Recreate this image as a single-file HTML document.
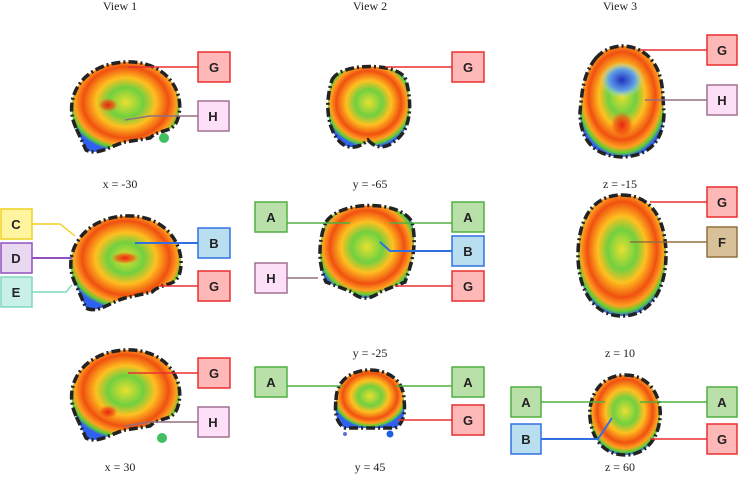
<!DOCTYPE html>
<html><head><style>
body{margin:0;background:#fff}
svg{display:block}
.t{font-family:"Liberation Serif","DejaVu Serif",serif;font-size:12px;fill:#222}
.b text{font-family:"Liberation Sans",sans-serif;font-size:13px;font-weight:bold;fill:#222;text-anchor:middle}
.br{stroke:#222;stroke-width:3.5;stroke-dasharray:9 3 2 3;fill:url(#g)}
</style></head><body>
<svg width="738" height="484" viewBox="0 0 738 484">
<defs>
<radialGradient id="g" cx="50%" cy="45%" r="55%">
<stop offset="0" stop-color="#e8e030"/>
<stop offset="0.3" stop-color="#70d040"/>
<stop offset="0.5" stop-color="#ffc020"/>
<stop offset="0.72" stop-color="#f05010"/>
<stop offset="0.85" stop-color="#ffa020"/>
<stop offset="0.93" stop-color="#60d030"/>
<stop offset="1" stop-color="#3060f0"/>
</radialGradient>
<radialGradient id="bl" cx="50%" cy="50%" r="50%">
<stop offset="0" stop-color="#2030c0"/><stop offset="0.6" stop-color="#60a0e8"/><stop offset="1" stop-color="#b0f0e0" stop-opacity="0"/>
</radialGradient>
<radialGradient id="rd" cx="50%" cy="50%" r="50%">
<stop offset="0" stop-color="#e82010"/><stop offset="0.6" stop-color="#f05010" stop-opacity="0.7"/><stop offset="1" stop-color="#ff8020" stop-opacity="0"/>
</radialGradient>
</defs>
<g class="t" text-anchor="middle">
<text x="120" y="10">View 1</text><text x="370" y="10">View 2</text><text x="620" y="10">View 3</text>
<text x="120" y="188">x = -30</text><text x="370" y="188">y = -65</text><text x="620" y="188">z = -15</text>
<text x="120" y="357">x = -8</text><text x="370" y="357">y = -25</text><text x="620" y="357">z = 10</text>
<text x="120" y="471">x = 30</text><text x="370" y="471">y = 45</text><text x="620" y="471">z = 60</text>
</g>
<!-- brains -->
<path class="br" d="M76,128 C62,98 82,64 125,62 C166,60 186,92 178,118 C174,134 160,128 150,138 L125,142 C110,146 98,156 86,150 Z"/>
<ellipse cx="108" cy="105" rx="10" ry="7" fill="url(#rd)"/>
<circle cx="164" cy="138" r="5" fill="#40c060"/>
<path class="br" d="M76,285 C60,255 82,218 125,216 C166,214 186,246 180,272 C176,288 162,282 152,292 L125,298 C110,302 98,314 86,308 Z"/>
<ellipse cx="125" cy="258" rx="14" ry="6" fill="url(#rd)"/>
<path class="br" d="M76,416 C62,386 82,352 125,350 C166,348 186,380 178,406 C174,422 160,416 150,426 L125,430 C110,434 98,444 86,438 Z"/>
<ellipse cx="108" cy="412" rx="10" ry="7" fill="url(#rd)"/>
<circle cx="162" cy="438" r="5" fill="#40c060"/>
<path class="br" d="M332,80 C340,62 400,62 406,80 C414,110 408,132 396,140 C385,150 375,148 368,140 C360,148 348,150 340,142 C328,130 324,105 332,80 Z"/>
<path class="br" d="M326,222 C340,200 400,200 412,222 C418,248 410,268 405,282 L380,292 C370,300 360,300 352,292 L326,282 C318,265 318,240 326,222 Z"/>
<path class="br" d="M336,400 C336,378 355,370 370,370 C385,370 404,378 404,400 C406,415 402,425 395,428 L345,428 C338,425 334,415 336,400 Z"/>
<circle cx="345" cy="434" r="2" fill="#6070d0"/><circle cx="390" cy="434" r="3.5" fill="#2060e0"/>
<path class="br" d="M596,58 C610,42 635,42 650,58 C665,75 662,95 664,112 C664,138 652,156 622,157 C592,156 580,138 580,112 C582,95 582,75 596,58 Z"/>
<ellipse cx="622" cy="80" rx="22" ry="18" fill="url(#bl)"/>
<ellipse cx="622" cy="125" rx="12" ry="14" fill="url(#rd)"/>
<path class="br" d="M622,195 C655,195 666,225 666,255 C666,290 650,316 622,316 C594,316 578,290 578,255 C578,225 589,195 622,195 Z"/>
<path class="br" d="M625,375 C652,375 662,400 660,418 C658,440 645,455 625,455 C605,455 592,440 590,418 C588,400 598,375 625,375 Z"/>
<!-- connectors -->
<g fill="none" stroke-width="1.4">
<path d="M198,67 H128" stroke="#e83030"/>
<path d="M198,116 H150 L125,120" stroke="#907080"/>
<path d="M198,243 H135" stroke="#3070e0" stroke-width="2"/>
<path d="M198,286 H160" stroke="#e83030"/>
<path d="M32,224 H60 L75,236" stroke="#f0d020"/>
<path d="M32,258 H72" stroke="#9050c0" stroke-width="2"/>
<path d="M32,292 H66 L72,285" stroke="#80d8c0"/>
<path d="M198,373 H128" stroke="#e83030"/>
<path d="M198,422 H150 L125,426" stroke="#907080"/>
<path d="M452,67 H385" stroke="#e83030"/>
<path d="M287,223 H350" stroke="#50b040"/>
<path d="M452,223 H390" stroke="#50b040"/>
<path d="M452,251 H390 L380,242" stroke="#3070e0" stroke-width="2"/>
<path d="M287,278 H318" stroke="#907080"/>
<path d="M452,286 H395" stroke="#e83030"/>
<path d="M287,386 H343" stroke="#50b040"/>
<path d="M452,386 H395" stroke="#50b040"/>
<path d="M452,420 H398" stroke="#e83030"/>
<path d="M708,50 H640" stroke="#e83030"/>
<path d="M708,100 H645" stroke="#907080"/>
<path d="M708,202 H650" stroke="#e83030"/>
<path d="M708,242 H630" stroke="#907040"/>
<path d="M541,402 H605" stroke="#50b040"/>
<path d="M708,402 H640" stroke="#50b040"/>
<path d="M541,439 H598 L612,418" stroke="#3070e0" stroke-width="2"/>
<path d="M708,439 H650" stroke="#e83030"/>
</g>
<!-- boxes -->
<g class="b" stroke-width="1.5">
<rect x="198" y="52" width="32" height="30" fill="#ffb8b8" stroke="#e83030"/><text x="214" y="72">G</text>
<rect x="198" y="101" width="31" height="30" fill="#fde0f8" stroke="#a07090"/><text x="213" y="121">H</text>
<rect x="198" y="228" width="32" height="30" fill="#b8def0" stroke="#3070e0"/><text x="214" y="248">B</text>
<rect x="198" y="271" width="32" height="30" fill="#ffb8b8" stroke="#e83030"/><text x="214" y="291">G</text>
<rect x="1" y="209" width="31" height="30" fill="#fff5a0" stroke="#f0d020"/><text x="16" y="229">C</text>
<rect x="1" y="243" width="31" height="30" fill="#e8d8f0" stroke="#9050c0"/><text x="16" y="263">D</text>
<rect x="1" y="277" width="31" height="30" fill="#c8f0e8" stroke="#80d8c0"/><text x="16" y="297">E</text>
<rect x="198" y="358" width="32" height="30" fill="#ffb8b8" stroke="#e83030"/><text x="214" y="378">G</text>
<rect x="198" y="407" width="31" height="30" fill="#fde0f8" stroke="#a07090"/><text x="213" y="427">H</text>
<rect x="452" y="52" width="32" height="30" fill="#ffb8b8" stroke="#e83030"/><text x="468" y="72">G</text>
<rect x="255" y="202" width="32" height="30" fill="#b8e0a8" stroke="#50b040"/><text x="271" y="222">A</text>
<rect x="452" y="202" width="32" height="30" fill="#b8e0a8" stroke="#50b040"/><text x="468" y="222">A</text>
<rect x="452" y="236" width="32" height="30" fill="#b8def0" stroke="#3070e0"/><text x="468" y="256">B</text>
<rect x="255" y="263" width="32" height="30" fill="#fde0f8" stroke="#a07090"/><text x="271" y="283">H</text>
<rect x="452" y="271" width="32" height="30" fill="#ffb8b8" stroke="#e83030"/><text x="468" y="291">G</text>
<rect x="255" y="367" width="32" height="30" fill="#b8e0a8" stroke="#50b040"/><text x="271" y="387">A</text>
<rect x="452" y="367" width="32" height="30" fill="#b8e0a8" stroke="#50b040"/><text x="468" y="387">A</text>
<rect x="452" y="405" width="32" height="30" fill="#ffb8b8" stroke="#e83030"/><text x="468" y="425">G</text>
<rect x="707" y="35" width="30" height="30" fill="#ffb8b8" stroke="#e83030"/><text x="722" y="55">G</text>
<rect x="707" y="85" width="30" height="30" fill="#fde0f8" stroke="#a07090"/><text x="722" y="105">H</text>
<rect x="707" y="187" width="30" height="30" fill="#ffb8b8" stroke="#e83030"/><text x="722" y="207">G</text>
<rect x="707" y="227" width="30" height="30" fill="#d8c098" stroke="#907040"/><text x="722" y="247">F</text>
<rect x="511" y="387" width="30" height="30" fill="#b8e0a8" stroke="#50b040"/><text x="526" y="407">A</text>
<rect x="707" y="387" width="30" height="30" fill="#b8e0a8" stroke="#50b040"/><text x="722" y="407">A</text>
<rect x="511" y="424" width="30" height="30" fill="#b8def0" stroke="#3070e0"/><text x="526" y="444">B</text>
<rect x="707" y="424" width="30" height="30" fill="#ffb8b8" stroke="#e83030"/><text x="722" y="444">G</text>
</g>
</svg>
</body></html>
